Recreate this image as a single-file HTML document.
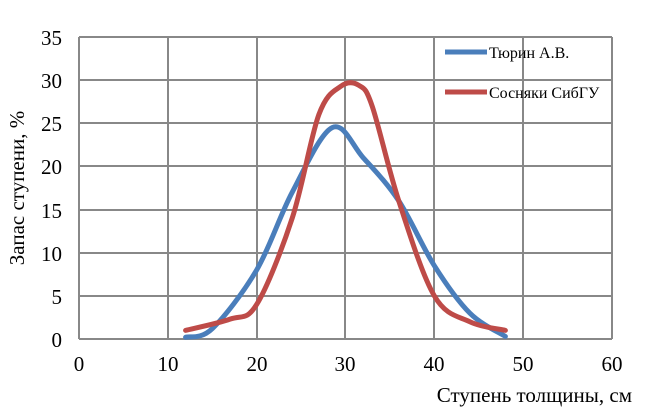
<!DOCTYPE html>
<html><head><meta charset="utf-8"><style>
html,body{margin:0;padding:0;background:#fff;}
svg, svg text{font-family:"Liberation Serif","DejaVu Serif",serif;}
</style></head><body>
<svg id="s" width="652" height="407" viewBox="0 0 652 407" font-family="Liberation Serif, serif">
<g stroke="#888" stroke-width="2">
<line x1="79" y1="37" x2="79" y2="339"/><line x1="168" y1="37" x2="168" y2="339"/><line x1="257" y1="37" x2="257" y2="339"/><line x1="345" y1="37" x2="345" y2="339"/><line x1="434" y1="37" x2="434" y2="339"/><line x1="523" y1="37" x2="523" y2="339"/><line x1="612" y1="37" x2="612" y2="339"/>
<line x1="79" y1="37" x2="612" y2="37"/><line x1="79" y1="80" x2="612" y2="80"/><line x1="79" y1="123" x2="612" y2="123"/><line x1="79" y1="166" x2="612" y2="166"/><line x1="79" y1="210" x2="612" y2="210"/><line x1="79" y1="253" x2="612" y2="253"/><line x1="79" y1="296" x2="612" y2="296"/><line x1="79" y1="339" x2="612" y2="339"/>
</g>
<g font-size="21" fill="#000" text-anchor="end">
<text x="62" y="45">35</text><text x="62" y="88">30</text><text x="62" y="131">25</text><text x="62" y="174">20</text><text x="62" y="218">15</text><text x="62" y="261">10</text><text x="62" y="304">5</text><text x="62" y="347">0</text>
</g>
<g font-size="21" fill="#000" text-anchor="middle">
<text x="79" y="371">0</text><text x="168" y="371">10</text><text x="257" y="371">20</text><text x="345" y="371">30</text><text x="434" y="371">40</text><text x="523" y="371">50</text><text x="612" y="371">60</text>
</g>
<text x="632" y="402" font-size="21" text-anchor="end">Ступень толщины, см</text>
<text transform="translate(24,188) rotate(-90)" font-size="21" text-anchor="middle">Запас ступени, %</text>
<path id="b" fill="none" stroke="#4a7ebb" stroke-width="5" stroke-linecap="round"/>
<path id="r" fill="none" stroke="#be4b48" stroke-width="5" stroke-linecap="round"/>
<line x1="445" y1="52" x2="487" y2="52" stroke="#4a7ebb" stroke-width="5"/>
<line x1="445" y1="92" x2="487" y2="92" stroke="#be4b48" stroke-width="5"/>
<text x="489" y="58" font-size="16">Тюрин А.В.</text>
<text x="489" y="98" font-size="16">Сосняки СибГУ</text>
</svg>
<script>
function P(pts){var p=pts.map(function(a){return[79+a[0]*8.883,339-a[1]*8.629]});
var d="M"+p[0][0]+","+p[0][1];
for(var i=0;i<p.length-1;i++){var p0=p[i-1]||p[i],p1=p[i],p2=p[i+1],p3=p[i+2]||p2;
var c1=[p1[0]+(p2[0]-p0[0])/6,p1[1]+(p2[1]-p0[1])/6],c2=[p2[0]-(p3[0]-p1[0])/6,p2[1]-(p3[1]-p1[1])/6];
d+=" C"+c1+" "+c2+" "+p2;}return d;}
document.getElementById("b").setAttribute("d",P([[12,0.2],[15,1.2],[20,8],[24,17],[28.5,24.5],[32,21],[36,16],[40,8.5],[44,3],[48,0.3]]));
document.getElementById("r").setAttribute("d",P([[12,1],[17,2.3],[20,4],[24,14],[27,26],[29.5,29.3],[31.5,29.4],[33,27],[36,16],[40,5],[44,2],[48,1]]));
</script>
</body></html>
